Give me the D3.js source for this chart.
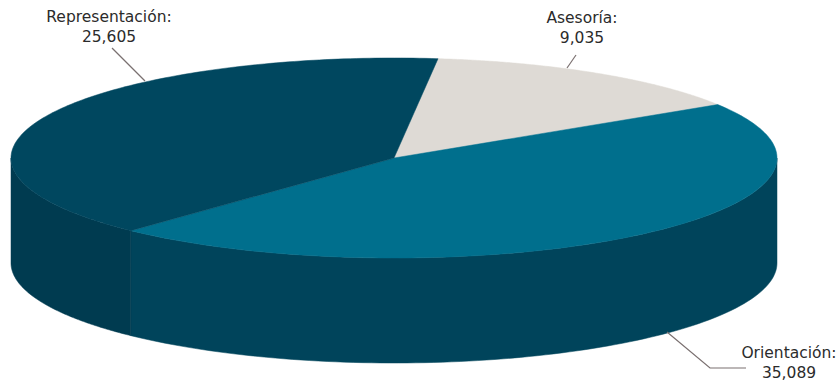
<!DOCTYPE html>
<html>
<head>
<meta charset="utf-8">
<script src="https://cdn.jsdelivr.net/npm/d3@7"></script>
<style>
  body { margin: 0; background: #ffffff; }
  svg { display: block; }
</style>
</head>
<body>
<svg id="chart" width="836" height="383"></svg>
<script>
// ---- data (clockwise from the top of the pie) ----
const categories = ["Asesoría", "Orientación", "Representación"];
const values = [9035, 35089, 25605];
const valueLabels = ["9,035", "35,089", "25,605"];
const topColors = ["#dedad5", "#006f8d", "#00475f"];
const sideColors = ["#b9b5b0", "#00445b", "#003b50"];

// ---- geometry ----
const W = 836, H = 383;
const cx = 394, cy = 158, rx = 383, ry = 100, depth = 105;
const startA = 0.0585; // pie angle (clockwise from 12 o'clock) of first slice
// 3D view warp (perspective-like) of the angles
const warpA = 0.143, warpB = -1.92;

const svg = d3.select("#chart");
const g = svg.append("g");

const pie = d3.pie().sort(null).value(d => d.v)
  .startAngle(startA).endAngle(startA + 2 * Math.PI);
const arcs = pie(categories.map((c, i) => ({ c, v: values[i], i })));

// convert pie angle to screen parametric angle
const toT = a => { const s = a - Math.PI / 2; return s + warpA * Math.sin(s - warpB); };
const ex = t => cx + rx * Math.cos(t);
const ey = (t, dz) => cy + ry * Math.sin(t) + (dz || 0);

function topPath(a0, a1) {
  const p = d3.path();
  p.moveTo(cx, cy);
  const n = 160;
  for (let k = 0; k <= n; k++) {
    const t = toT(a0 + (a1 - a0) * k / n);
    p.lineTo(ex(t), ey(t));
  }
  p.closePath();
  return p.toString();
}

function sidePath(a0, a1) {
  const t0 = toT(a0), t1 = toT(a1);
  const segs = [];
  for (let off = -2; off <= 2; off++) {
    const lo = Math.max(t0, off * 2 * Math.PI), hi = Math.min(t1, off * 2 * Math.PI + Math.PI);
    if (hi > lo) segs.push([lo, hi]);
  }
  return segs.map(([lo, hi]) => {
    const p = d3.path();
    const n = 100;
    for (let k = 0; k <= n; k++) {
      const t = lo + (hi - lo) * k / n;
      if (k === 0) p.moveTo(ex(t), ey(t)); else p.lineTo(ex(t), ey(t));
    }
    for (let k = n; k >= 0; k--) {
      const t = lo + (hi - lo) * k / n;
      p.lineTo(ex(t), ey(t, depth));
    }
    p.closePath();
    return p.toString();
  }).join(" ");
}

// sides
g.selectAll("path.side").data(arcs).enter().append("path")
  .attr("class", "side")
  .attr("d", d => sidePath(d.startAngle, d.endAngle))
  .attr("fill", d => sideColors[d.data.i])
  .attr("stroke", d => sideColors[d.data.i])
  .attr("stroke-width", 0.5);

// tops
g.selectAll("path.top").data(arcs).enter().append("path")
  .attr("class", "top")
  .attr("d", d => topPath(d.startAngle, d.endAngle))
  .attr("fill", d => topColors[d.data.i])
  .attr("stroke", d => topColors[d.data.i])
  .attr("stroke-width", 0.5);

// ---- labels ----
const labelFont = "'DejaVu Sans', Verdana, sans-serif";
const labelSpecs = [
  { i: 0, x: 582, y: 23, line: [[576, 55], [567, 68]], anchor: "middle" },
  { i: 1, x: 789, y: 358, line: [[667, 332], [710, 368], [746, 368]], anchor: "middle" },
  { i: 2, x: 109, y: 22, line: [[112, 48], [145, 81]], anchor: "middle" }
];

const lg = svg.append("g");
labelSpecs.forEach(s => {
  lg.append("path")
    .attr("d", d3.line()(s.line))
    .attr("fill", "none")
    .attr("stroke", "#7a7070")
    .attr("stroke-width", 1.2);
  const t = lg.append("text")
    .attr("x", s.x).attr("y", s.y)
    .attr("text-anchor", s.anchor)
    .attr("font-family", labelFont)
    .attr("font-size", "15.5px")
    .attr("fill", "#2b2b2b");
  t.append("tspan").attr("x", s.x).attr("dy", 0).text(categories[s.i] + ":");
  t.append("tspan").attr("x", s.x).attr("dy", 19.5).text(valueLabels[s.i]);
});
</script>
</body>
</html>
